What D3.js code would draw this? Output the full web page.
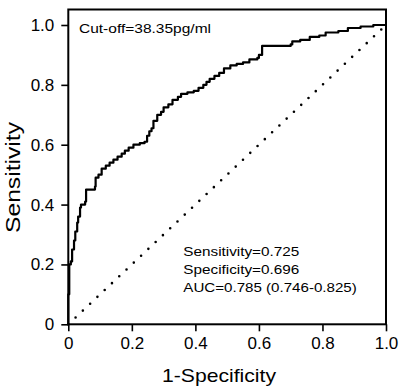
<!DOCTYPE html>
<html>
<head>
<meta charset="utf-8">
<script src="https://cdn.jsdelivr.net/npm/d3@7"></script>
<style>
  body { margin: 0; background: #fff; }
  text { font-family: "Liberation Sans", Arial, sans-serif; fill: #000; }
</style>
</head>
<body>
<div id="chart"></div>
<script>
// ROC curve points (1-specificity, sensitivity)
const fpr = [0, 0, 0.003, 0.008, 0.012, 0.018, 0.022, 0.028, 0.031, 0.037, 0.04, 0.053, 0.056,
  0.084, 0.086, 0.095, 0.105, 0.118, 0.13, 0.142, 0.155, 0.168, 0.178, 0.19, 0.205, 0.225,
  0.24, 0.248, 0.255, 0.262, 0.268, 0.28, 0.292, 0.30, 0.315, 0.328, 0.345, 0.355, 0.375,
  0.395, 0.41, 0.425, 0.435, 0.445, 0.46, 0.475, 0.49, 0.51, 0.53, 0.55, 0.57, 0.595, 0.60,
  0.61, 0.70, 0.705, 0.73, 0.76, 0.79, 0.81, 0.85, 0.88, 0.92, 0.96, 1.0];
const tpr = [0, 0.10, 0.20, 0.21, 0.25, 0.28, 0.31, 0.34, 0.36, 0.39, 0.40, 0.41, 0.45,
  0.46, 0.49, 0.50, 0.52, 0.53, 0.54, 0.55, 0.56, 0.57, 0.58, 0.59, 0.60, 0.605,
  0.61, 0.63, 0.645, 0.655, 0.68, 0.70, 0.71, 0.725, 0.735, 0.75, 0.76, 0.77, 0.775,
  0.78, 0.79, 0.80, 0.81, 0.82, 0.83, 0.84, 0.855, 0.865, 0.87, 0.875, 0.885, 0.89, 0.90,
  0.93, 0.935, 0.945, 0.95, 0.96, 0.965, 0.975, 0.98, 0.99, 0.995, 1.0, 1.0];

const tickValues = [0, 0.2, 0.4, 0.6, 0.8, 1.0];
const tickLabels = ["0", "0.2", "0.4", "0.6", "0.8", "1.0"];
const diagonal = [0, 1];

const cutoffLabel = "Cut-off=38.35pg/ml";
const statLabels = ["Sensitivity=0.725", "Specificity=0.696", "AUC=0.785 (0.746-0.825)"];

const width = 400, height = 388;
const margin = { top: 9.5, right: 14, bottom: 64, left: 68.3 };

let svg = d3.select("#chart")
  .append("svg")
  .attr("width", width)
  .attr("height", height);

let x = d3.scaleLinear()
  .domain([0, 1])
  .range([margin.left, width - margin.right]);

let y = d3.scaleLinear()
  .domain([0, 1])
  .range([324.3, 25]);

// frame
svg.append("rect")
  .attr("x", x(0))
  .attr("y", margin.top)
  .attr("width", x(1) - x(0))
  .attr("height", y(0) - margin.top)
  .attr("fill", "none")
  .attr("stroke", "#000")
  .attr("stroke-width", 2);

let xAxis = svg.append("g")
  .attr("transform", `translate(0,${y(0)})`)
  .call(d3.axisBottom(x).tickValues(tickValues).tickFormat((d, i) => tickLabels[i])
    .tickSize(7).tickPadding(6).tickSizeOuter(0));

let yAxis = svg.append("g")
  .attr("transform", `translate(${x(0)},0)`)
  .call(d3.axisLeft(y).tickValues(tickValues).tickFormat((d, i) => tickLabels[i])
    .tickSize(7).tickPadding(7).tickSizeOuter(0));

[xAxis, yAxis].forEach(g => {
  g.select(".domain").remove();
  g.selectAll("line").attr("stroke", "#000").attr("stroke-width", 1.6);
  g.selectAll("text")
    .attr("font-family", "Liberation Sans, Arial, sans-serif")
    .attr("font-size", 17)
    .attr("fill", "#000");
});

// chance line
svg.append("line")
  .attr("x1", x(diagonal[0])).attr("y1", y(diagonal[0]))
  .attr("x2", x(diagonal[1])).attr("y2", y(diagonal[1]))
  .attr("stroke", "#000")
  .attr("stroke-width", 2.6)
  .attr("stroke-linecap", "round")
  .attr("stroke-dasharray", "0,10");

// ROC curve
let line = d3.line()
  .x((d, i) => x(fpr[i]))
  .y((d, i) => y(tpr[i]))
  .curve(d3.curveStepAfter);

svg.append("path")
  .datum(fpr)
  .attr("d", line)
  .attr("fill", "none")
  .attr("stroke", "#000")
  .attr("stroke-width", 2.2)
  .attr("stroke-linejoin", "round");

// axis titles
svg.append("text")
  .attr("x", 162)
  .attr("y", 382)
  .attr("font-size", 19)
  .attr("textLength", 114)
  .attr("lengthAdjust", "spacingAndGlyphs")
  .text("1-Specificity");

svg.append("text")
  .attr("transform", "translate(19.5,233) rotate(-90)")
  .attr("font-size", 19.5)
  .attr("textLength", 111)
  .attr("lengthAdjust", "spacingAndGlyphs")
  .text("Sensitivity");

// annotations
svg.append("text")
  .attr("x", 79)
  .attr("y", 33)
  .attr("font-size", 13)
  .attr("textLength", 132)
  .attr("lengthAdjust", "spacingAndGlyphs")
  .text(cutoffLabel);

const statWidths = [116, 116, 173.5];
svg.selectAll(".stat")
  .data(statLabels)
  .join("text")
  .attr("class", "stat")
  .attr("x", 183.3)
  .attr("y", (d, i) => 255.5 + i * 18)
  .attr("font-size", 13)
  .attr("textLength", (d, i) => statWidths[i])
  .attr("lengthAdjust", "spacingAndGlyphs")
  .text(d => d);
</script>
</body>
</html>
